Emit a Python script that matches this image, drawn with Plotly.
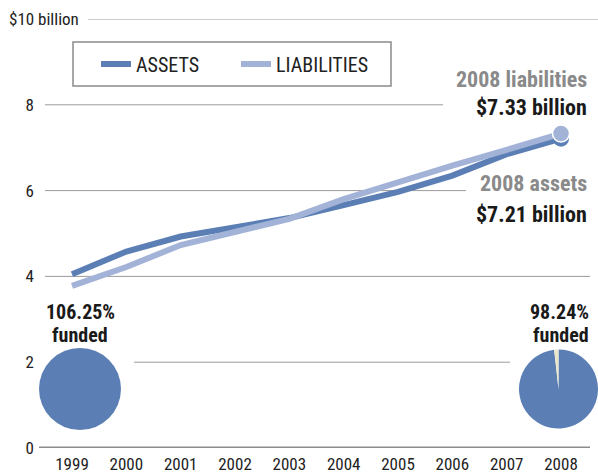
import plotly.graph_objects as go

years = [1999, 2000, 2001, 2002, 2003, 2004, 2005, 2006, 2007, 2008]
assets = [4.05, 4.58, 4.93, 5.15, 5.36, 5.66, 5.97, 6.35, 6.85, 7.21]
liabilities = [3.78, 4.22, 4.73, 5.04, 5.34, 5.80, 6.20, 6.58, 6.95, 7.33]
ytick_vals = [0, 2, 4, 6, 8]
ytick_text = ["0", "2", "4", "6", "8"]
funded_1999 = [106.25]
funded_2008 = [98.24, 1.76]

C_ASSET = "#5b7fb5"
C_LIAB = "#a3b3d8"
FONT = "Roboto Condensed, Roboto, sans-serif"

W, H = 598, 475
ML, MR, MT, MB = 20, 0, 19, 27
PW = W - ML - MR
PH = H - MT - MB


def px(x):
    return (x - ML) / PW


def py(y):
    return (H - MB - y) / PH


fig = go.Figure()

fig.add_trace(go.Scatter(x=years, y=assets, mode="lines", name="ASSETS",
                         line=dict(color=C_ASSET, width=6)))
fig.add_trace(go.Scatter(x=years, y=liabilities, mode="lines", name="LIABILITIES",
                         line=dict(color=C_LIAB, width=6)))
fig.add_trace(go.Scatter(x=years[-1:], y=assets[-1:], mode="markers", showlegend=False,
                         marker=dict(color=C_ASSET, size=16, line=dict(width=0))))
fig.add_trace(go.Scatter(x=years[-1:], y=liabilities[-1:], mode="markers", showlegend=False,
                         marker=dict(color=C_LIAB, size=17, line=dict(color="white", width=1.5))))

fig.add_trace(go.Pie(values=funded_1999, sort=False, showlegend=False, textinfo="none",
                     hoverinfo="skip", marker=dict(colors=[C_ASSET], line=dict(width=0)),
                     domain=dict(x=[px(39), px(121)], y=[py(430), py(348)])))
fig.add_trace(go.Pie(values=funded_2008, sort=False, direction="clockwise", rotation=0,
                     showlegend=False, textinfo="none", hoverinfo="skip",
                     marker=dict(colors=[C_ASSET, "#e9e6cc"], line=dict(width=0)),
                     domain=dict(x=[px(519), px(598)], y=[py(429), py(349)])))

x0 = 1999 - 27 / 54.333
x1 = 2008 + 29 / 54.333

grid = dict(color="#9a9a9a", width=1)
shapes = [
    dict(type="line", xref="paper", yref="y", x0=px(88), x1=px(598), y0=10, y1=10, line=grid),
    dict(type="line", xref="paper", yref="y", x0=px(45), x1=px(443), y0=8, y1=8, line=grid),
    dict(type="line", xref="paper", yref="y", x0=px(45), x1=px(466), y0=6, y1=6, line=grid),
    dict(type="line", xref="paper", yref="y", x0=px(45), x1=px(590), y0=4, y1=4, line=grid),
    dict(type="line", xref="paper", yref="y", x0=px(134), x1=px(510), y0=2, y1=2, line=grid),
    dict(type="line", xref="paper", yref="y", x0=px(39), x1=px(590), y0=0, y1=0,
         line=dict(color="#8c8c8c", width=3)),
    dict(type="rect", xref="paper", yref="paper", x0=px(73), x1=px(391), y0=py(86), y1=py(42),
         line=dict(color="#8a8a8a", width=1.5), fillcolor="white"),
]
for s in shapes:
    s["layer"] = "below"


def note(text, x, y, size, color, xanchor="right", height=None):
    d = dict(text=text, xref="paper", yref="paper", x=px(x), y=py(y), xanchor=xanchor,
             yanchor="middle", showarrow=False, font=dict(size=size, color=color))
    if height:
        d["height"] = height
    return d


annotations = [
    dict(text="$10 billion", xref="paper", yref="y", x=px(81), y=10, xanchor="right",
         yanchor="middle", showarrow=False, font=dict(size=17, color="#222")),
    note("<b>2008 liabilities</b>", 589, 80, 22, "#8a8a8a"),
    note("<b>$7.33 billion</b>", 589, 107, 22, "#1a1a1a"),
    note("<b>2008 assets</b>", 589, 183, 22, "#8a8a8a"),
    note("<b>$7.21 billion</b>", 589, 215, 22, "#1a1a1a"),
    note("<b>106.25%</b>", 80, 312, 20, "#1a1a1a", "center", 22),
    note("<b>funded</b>", 80, 335, 20, "#1a1a1a", "center", 22),
    note("<b>98.24%</b>", 591, 312, 20, "#1a1a1a", "right", 22),
    note("<b>funded</b>", 591, 335, 20, "#1a1a1a", "right", 22),
]

fig.update_layout(
    width=W, height=H,
    margin=dict(l=ML, r=MR, t=MT, b=MB),
    paper_bgcolor="white", plot_bgcolor="rgba(0,0,0,0)",
    font=dict(family=FONT, size=17, color="#222"),
    xaxis=dict(range=[x0, x1], domain=[px(45), px(590)], tickvals=years,
               ticktext=[str(y) for y in years], showgrid=False, zeroline=False,
               showline=False, ticks="", ticklabelstandoff=4,
               tickfont=dict(size=17, color="#222"), fixedrange=True),
    yaxis=dict(range=[0, 10], tickvals=ytick_vals, ticktext=ytick_text, showgrid=False,
               zeroline=False, showline=False, ticks="", ticklabelstandoff=10,
               tickfont=dict(size=17, color="#222"), fixedrange=True),
    legend=dict(orientation="h", x=px(96), y=py(64), xanchor="left", yanchor="middle",
                borderwidth=0, bgcolor="rgba(0,0,0,0)",
                font=dict(size=20, color="#222"), entrywidth=95, traceorder="normal"),
    shapes=shapes,
    annotations=annotations,
    showlegend=True,
)

fig.write_html("out.html", config={"displayModeBar": False},
               post_script="document.body.style.margin='0';")
